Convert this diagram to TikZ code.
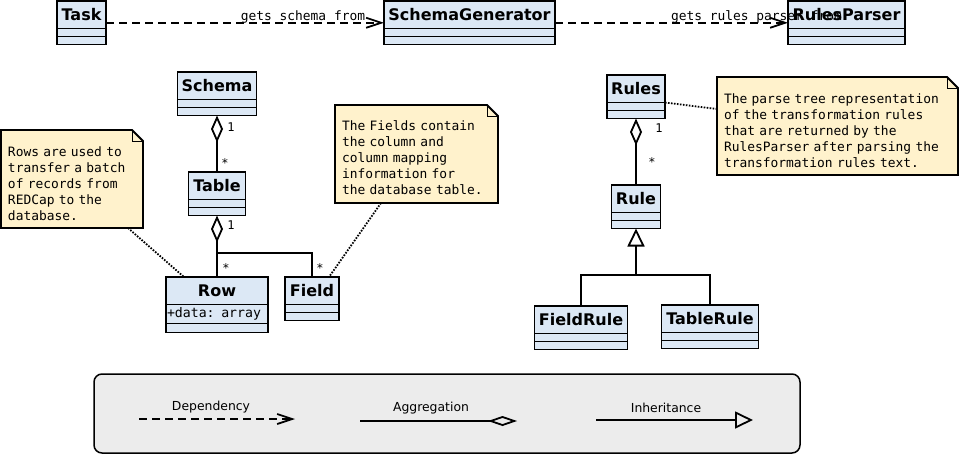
\documentclass[tikz,border=0pt]{standalone}
\usepackage{fontspec}
\setmainfont{DejaVu Sans}
\setmonofont{DejaVu Sans Mono}
\usetikzlibrary{arrows.meta, fit, backgrounds}

\definecolor{classblue}{RGB}{220,232,245}
\definecolor{noteyellow}{RGB}{255,242,204}
\definecolor{legendgray}{RGB}{236,236,236}

% class box: title and two empty compartments
\newcommand{\umlclass}[4]{%
  \node[class title, minimum width=#3] (#1-t) at (#2) {#4};
  \node[class part, minimum width=#3] (#1-a) at (#1-t.south) {};
  \node[class part, minimum width=#3] (#1-b) at (#1-a.south) {};
  \node[fit=(#1-t)(#1-b), inner sep=0pt, outer sep=0pt] (#1) {};
}

% note outline with folded corner
\newcommand{\dogear}[1]{%
  \begin{scope}[on background layer]
    \draw[fill=noteyellow, line width=1.8pt, line join=miter] (#1.north west)
      -- ([xshift=-11pt]#1.north east) -- ([yshift=-11pt]#1.north east)
      -- (#1.south east) -- (#1.south west) -- cycle;
    \draw[line width=0.8pt] ([xshift=-11pt]#1.north east) |- ([yshift=-11pt]#1.north east);
  \end{scope}%
}

\begin{document}
\begin{tikzpicture}[x=1pt, y=-1pt, line width=1.8pt,
  class title/.style={draw, fill=classblue, line width=1.8pt, outer sep=0pt, inner sep=0pt,
    anchor=north west, minimum height=27.5pt, text height=11.8pt, text depth=0pt,
    font=\fontsize{16}{18}\selectfont\bfseries},
  class part/.style={draw, fill=classblue, line width=1.8pt, outer sep=0pt, inner sep=0pt,
    anchor=north, minimum height=8pt},
  note/.style={outer sep=0pt, inner xsep=7pt, inner ysep=0pt, anchor=north west,
    align=left, font=\fontsize{12.9}{16}\selectfont\ttfamily},
  mult/.style={anchor=base, inner sep=0pt, font=\fontsize{12}{14}\selectfont\ttfamily},
  edge text/.style={inner sep=0pt, font=\fontsize{12.9}{15}\selectfont\ttfamily},
  legend text/.style={anchor=base, inner sep=0pt, font=\fontsize{12.4}{14}\selectfont},
  assoc/.style={line width=1.8pt},
  depend/.style={assoc, dash pattern=on 8pt off 5pt, -{Straight Barb[length=15pt,width=10pt]}},
  aggr/.style={assoc, -{Diamond[open,length=27pt,width=12pt]}},
  inherit/.style={assoc, -{Triangle[open,length=18pt,width=17pt]}},
  link/.style={assoc, dash pattern=on 1.6pt off 1.4pt}]

  \useasboundingbox (0,0) rectangle (961,456);

  % classes
  \umlclass{task}{57,1}{49pt}{Task}
  \umlclass{schemagen}{384,1}{171pt}{SchemaGenerator}
  \umlclass{rulesparser}{788,1}{117pt}{RulesParser}
  \umlclass{schema}{177.5,72}{79pt}{Schema}
  \umlclass{table}{188.5,172}{57pt}{Table}
  \umlclass{field}{285,277}{54pt}{Field}
  \umlclass{rules}{607,75}{58pt}{Rules}
  \umlclass{rule}{611.5,185}{49pt}{Rule}
  \umlclass{fieldrule}{534.5,306}{93pt}{FieldRule}
  \umlclass{tablerule}{661.5,305}{97pt}{TableRule}

  \node[class title, minimum width=102pt] (row-t) at (166,277) {Row};
  \node[class part, minimum height=19pt, text width=100pt, inner xsep=1pt, align=left,
    text height=9.5pt, text depth=2.5pt, font=\fontsize{13.2}{15}\selectfont\ttfamily]
    (row-a) at (row-t.south) {+data: array};
  \node[class part, minimum width=102pt, minimum height=9pt] (row-b) at (row-a.south) {};
  \node[fit=(row-t)(row-b), inner sep=0pt, outer sep=0pt] (row) {};

  % notes
  \node[note, text width=128pt, text height=26pt, text depth=72pt] (rowsnote) at (1,130)
    {Rows are used to\\transfer a batch\\of records from\\REDCap to the\\database.};
  \dogear{rowsnote}
  \node[note, text width=149pt, text height=25pt, text depth=73pt] (fieldsnote) at (335,105)
    {The Fields contain\\the column and\\column mapping\\information for\\the database table.};
  \dogear{fieldsnote}
  \node[note, text width=227pt, text height=26pt, text depth=72pt] (rulesnote) at (717,77)
    {The parse tree representation\\of the transformation rules\\that are returned by the\\RulesParser after parsing the\\transformation rules text.};
  \dogear{rulesnote}

  % dependencies
  \draw[depend] (task) -- node[edge text, pos=1, anchor=base east, xshift=-18pt, yshift=2pt]
    (schemalbl) {gets schema from} (schemagen);
  \draw[depend] (schemagen) -- node[edge text, pos=0.494, anchor=base west, yshift=2pt]
    (parserlbl) {gets rules parser from} (rulesparser);

  % aggregations
  \draw[aggr] (table) -- (schema);
  \draw[aggr] (row) -- (table);
  \coordinate (tbranch) at ([yshift=-37.5pt]table.south);
  \draw[assoc] (field.north) |- (tbranch);
  \draw[aggr] (rule) -- (rules);

  \node[mult] (m1) at (231,131) {1};
  \node[mult] (m2) at (225,167) {*};
  \node[mult] (m3) at (231,229) {1};
  \node[mult] (m4) at (226,272) {*};
  \node[mult] (m5) at (320,272) {*};
  \node[mult] (m6) at (659,132) {1};
  \node[mult] (m7) at (652,166) {*};

  % inheritance
  \coordinate (ibranch) at ([yshift=-46.5pt]rule.south);
  \draw[inherit] (ibranch) -- (rule.south);
  \draw[assoc] (fieldrule.north) |- (ibranch);
  \draw[assoc] (tablerule.north) |- (ibranch);

  % note links
  \draw[link] ([xshift=-15pt]rowsnote.south east) -- ([xshift=18pt]row.north west);
  \draw[link] ([xshift=46pt]fieldsnote.south west) -- ([xshift=-10pt]field.north east);
  \draw[link] (rules-t.south east) -- ([yshift=-32pt]rulesnote.north west);

  % legend
  \node[draw, fill=legendgray, rounded corners=8pt, line width=1.5pt, minimum width=706pt,
    minimum height=79pt, anchor=north west, inner sep=0pt, outer sep=0pt] (legend) at (94,374) {};
  \coordinate (dep-from) at (139,419);
  \coordinate (dep-to) at (295,419);
  \draw[depend] (dep-from) -- (dep-to);
  \node[legend text] (dep-lbl) at (211,410) {Dependency};
  \coordinate (agg-from) at (360,421);
  \coordinate (agg-to) at (517,421);
  \draw[assoc, -{Diamond[open,length=29pt,width=10pt]}] (agg-from) -- (agg-to);
  \node[legend text] (agg-lbl) at (431,411) {Aggregation};
  \coordinate (inh-from) at (596,420);
  \coordinate (inh-to) at (753,420);
  \draw[inherit] (inh-from) -- (inh-to);
  \node[legend text] (inh-lbl) at (666,412) {Inheritance};
\end{tikzpicture}
\end{document}
